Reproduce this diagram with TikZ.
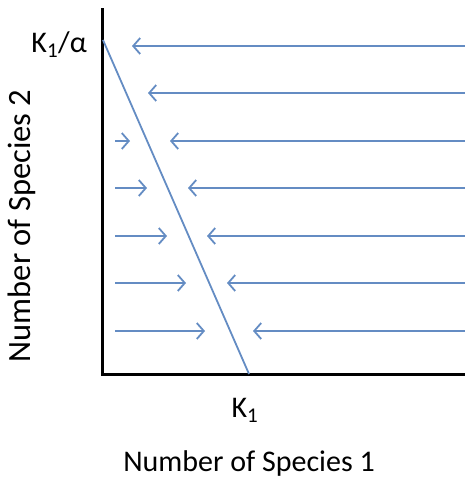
\documentclass[tikz,border=0pt]{standalone}
\usepackage{fontspec}
\setmainfont{Carlito}
\usetikzlibrary{arrows.meta}
\definecolor{arr}{RGB}{100,140,195}
\tikzset{
  flow/.style={draw=arr, line width=1.8pt, -{Straight Barb[length=7pt,width=16pt,line width=1.8pt]}},
  iso/.style={draw=arr, line width=1.8pt},
  axis/.style={draw=black, line width=3pt},
  lab/.style={font=\fontsize{30}{32}\selectfont, inner sep=0pt},
  ylab/.style={font=\fontsize{32.5}{34}\selectfont, inner sep=0pt},
}
\begin{document}
\begin{tikzpicture}[x=1pt,y=-1pt]
\useasboundingbox (0,0) rectangle (465,480);
% axes
\coordinate (top) at (102,8);
\coordinate (origin) at (102,374);
\coordinate (xend) at (465,374);
\draw[axis] (top) -- (origin) -- (xend);
% isocline
\coordinate (iA) at (103,40);
\coordinate (iB) at (249,374);
\draw[iso] (iA) -- (iB);
% left arrows
\foreach \y/\t [count=\i] in {46/132,93/148,141/170,188/188,236/207,283/227,331/253}{
  \coordinate (Ls\i) at (466,\y);
  \coordinate (Le\i) at (\t,\y);
  \draw[flow] (Ls\i) -- (Le\i);
}
% right arrows
\foreach \y/\t [count=\i] in {141/130,188/147,236/167,283/186,331/205}{
  \coordinate (Rs\i) at (115,\y);
  \coordinate (Re\i) at (\t,\y);
  \draw[flow] (Rs\i) -- (Re\i);
}
% labels
\node[lab, anchor=east] (k1a) at (87,45) {K\textsubscript{1}/α};
\node[lab] (k1) at (245,410) {K\textsubscript{1}};
\node[lab] (xl) at (249,463) {Number of Species 1};
\node[ylab, rotate=90] (yl) at (22,226) {Number of Species 2};
\end{tikzpicture}
\end{document}
